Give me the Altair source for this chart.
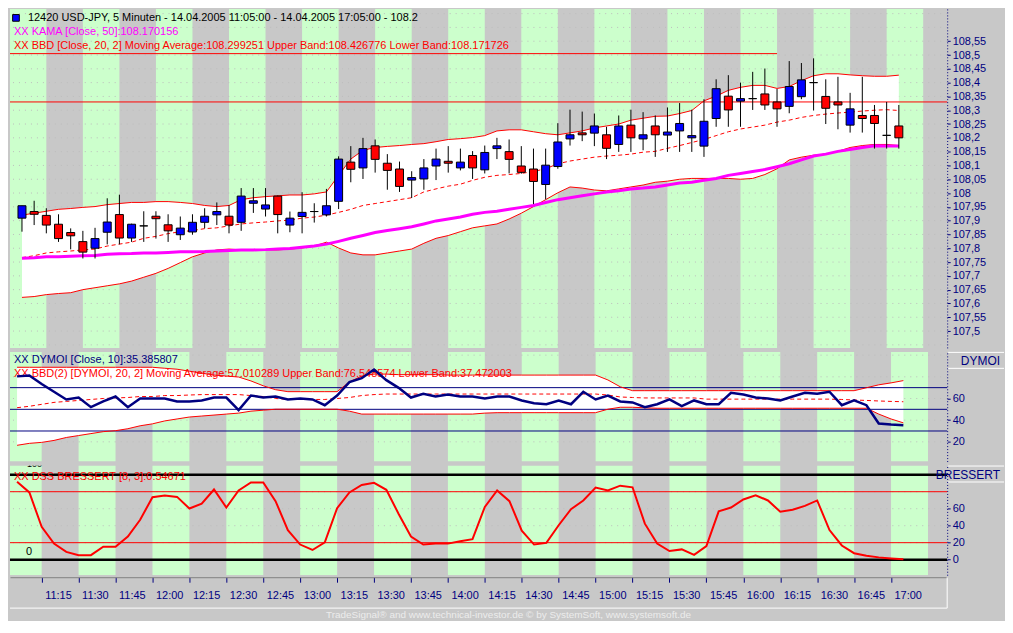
import altair as alt
import pandas as pd

# ---------------- data ----------------
times = [f"{11 + (5 + 5 * i) // 60}:{(5 + 5 * i) % 60:02d}" for i in range(73)]

open_ = [107.909, 107.933, 107.919, 107.887, 107.857, 107.824, 107.800, 107.858, 107.922, 107.837,
         107.881, 107.916, 107.885, 107.849, 107.859, 107.894, 107.921, 107.916, 107.894, 107.963,
         107.942, 107.989, 107.884, 107.915, 107.933, 107.921, 107.970, 108.112, 108.091, 108.171,
         108.108, 108.087, 108.047, 108.051, 108.098, 108.115, 108.091, 108.136, 108.084, 108.161,
         108.150, 108.098, 108.087, 108.031, 108.096, 108.196, 108.218, 108.217, 108.211, 108.176,
         108.246, 108.196, 108.243, 108.210, 108.225, 108.200, 108.170, 108.270, 108.351, 108.333,
         108.342, 108.359, 108.330, 108.314, 108.349, 108.400, 108.350, 108.330, 108.246, 108.281,
         108.281, 108.209, 108.243]
high = [107.954, 107.972, 107.945, 107.923, 107.872, 107.863, 107.874, 107.981, 107.994, 107.889,
        107.934, 107.934, 107.923, 107.915, 107.923, 107.945, 107.966, 107.956, 108.018, 108.018,
        108.018, 107.991, 107.933, 108.003, 107.963, 108.015, 108.133, 108.170, 108.200, 108.194,
        108.141, 108.114, 108.079, 108.123, 108.161, 108.170, 108.161, 108.152, 108.172, 108.200,
        108.194, 108.170, 108.161, 108.161, 108.253, 108.302, 108.295, 108.288, 108.240, 108.281,
        108.302, 108.293, 108.281, 108.310, 108.326, 108.302, 108.340, 108.412, 108.427, 108.400,
        108.439, 108.451, 108.377, 108.478, 108.471, 108.488, 108.412, 108.421, 108.363, 108.421,
        108.319, 108.330, 108.319]
low = [107.860, 107.884, 107.854, 107.823, 107.796, 107.763, 107.763, 107.814, 107.814, 107.823,
       107.823, 107.835, 107.823, 107.830, 107.849, 107.872, 107.884, 107.854, 107.863, 107.928,
       107.915, 107.854, 107.858, 107.854, 107.893, 107.915, 107.942, 108.039, 108.051, 108.074,
       108.012, 108.004, 107.982, 108.012, 108.047, 108.074, 108.082, 108.051, 108.071, 108.123,
       108.071, 108.070, 107.960, 107.977, 108.088, 108.172, 108.188, 108.170, 108.123, 108.149,
       108.149, 108.155, 108.131, 108.149, 108.149, 108.149, 108.131, 108.240, 108.240, 108.240,
       108.301, 108.301, 108.240, 108.289, 108.340, 108.299, 108.250, 108.231, 108.219, 108.219,
       108.161, 108.161, 108.161]
close = [107.954, 107.923, 107.884, 107.835, 107.845, 107.786, 107.835, 107.895, 107.837, 107.887,
         107.881, 107.907, 107.863, 107.873, 107.894, 107.916, 107.933, 107.884, 107.989, 107.972,
         107.957, 107.922, 107.909, 107.930, 107.933, 107.954, 108.123, 108.086, 108.161, 108.122,
         108.082, 108.024, 108.056, 108.091, 108.123, 108.108, 108.112, 108.091, 108.147, 108.171,
         108.122, 108.075, 108.042, 108.101, 108.185, 108.211, 108.211, 108.243, 108.162, 108.243,
         108.200, 108.211, 108.211, 108.221, 108.252, 108.208, 108.260, 108.378, 108.301, 108.342,
         108.342, 108.319, 108.305, 108.386, 108.410, 108.400, 108.307, 108.319, 108.305, 108.270,
         108.252, 108.209, 108.200]

bb_upper = [107.920, 107.927, 107.934, 107.941, 107.944, 107.948, 107.951, 107.958, 107.962, 107.966,
            107.966, 107.969, 107.969, 107.966, 107.962, 107.955, 107.951, 107.955, 107.976, 107.983,
            107.987, 107.990, 107.993, 107.993, 107.997, 108.004, 108.064, 108.123, 108.155, 108.165,
            108.169, 108.172, 108.176, 108.179, 108.186, 108.194, 108.197, 108.201, 108.208, 108.225,
            108.229, 108.229, 108.222, 108.215, 108.211, 108.218, 108.225, 108.236, 108.243, 108.250,
            108.264, 108.271, 108.278, 108.279, 108.288, 108.299, 108.334, 108.351, 108.372, 108.383,
            108.390, 108.390, 108.379, 108.386, 108.407, 108.425, 108.432, 108.432, 108.428, 108.425,
            108.423, 108.423, 108.427]
bb_middle = [107.766, 107.773, 107.783, 107.787, 107.790, 107.794, 107.797, 107.808, 107.815, 107.822,
             107.836, 107.843, 107.853, 107.860, 107.864, 107.871, 107.874, 107.881, 107.888, 107.892,
             107.895, 107.899, 107.902, 107.909, 107.913, 107.920, 107.930, 107.941, 107.955, 107.962,
             107.969, 107.976, 107.983, 108.004, 108.015, 108.025, 108.032, 108.046, 108.057, 108.064,
             108.067, 108.071, 108.078, 108.088, 108.106, 108.116, 108.123, 108.130, 108.134, 108.137,
             108.141, 108.148, 108.151, 108.162, 108.172, 108.183, 108.194, 108.208, 108.222, 108.232,
             108.239, 108.246, 108.257, 108.264, 108.274, 108.281, 108.286, 108.290, 108.293, 108.297,
             108.300, 108.302, 108.299]
bb_lower = [107.622, 107.625, 107.632, 107.636, 107.639, 107.650, 107.657, 107.664, 107.671, 107.681,
            107.695, 107.709, 107.727, 107.748, 107.769, 107.783, 107.794, 107.797, 107.794, 107.794,
            107.794, 107.794, 107.797, 107.801, 107.808, 107.822, 107.801, 107.783, 107.776, 107.776,
            107.783, 107.790, 107.797, 107.818, 107.836, 107.846, 107.860, 107.874, 107.881, 107.888,
            107.906, 107.927, 107.951, 107.976, 108.001, 108.022, 108.018, 108.011, 108.008, 108.015,
            108.022, 108.029, 108.039, 108.043, 108.050, 108.053, 108.053, 108.053, 108.053, 108.050,
            108.053, 108.067, 108.088, 108.120, 108.130, 108.137, 108.141, 108.151, 108.165, 108.172,
            108.176, 108.176, 108.172]
kama = [107.764, 107.766, 107.769, 107.769, 107.771, 107.773, 107.774, 107.778, 107.780, 107.781,
        107.783, 107.783, 107.785, 107.787, 107.787, 107.788, 107.790, 107.792, 107.794, 107.794,
        107.795, 107.797, 107.799, 107.804, 107.808, 107.815, 107.825, 107.836, 107.846, 107.857,
        107.864, 107.871, 107.878, 107.888, 107.899, 107.906, 107.913, 107.923, 107.930, 107.934,
        107.941, 107.948, 107.955, 107.966, 107.976, 107.983, 107.990, 107.997, 108.004, 108.008,
        108.015, 108.018, 108.022, 108.029, 108.036, 108.039, 108.046, 108.053, 108.064, 108.071,
        108.078, 108.085, 108.095, 108.106, 108.120, 108.134, 108.141, 108.151, 108.158, 108.165,
        108.171, 108.170, 108.170]

dymoi = [80.4, 81.3, 73.3, 66.2, 59.1, 60.9, 52.0, 57.3, 61.8, 52.0,
         60.0, 60.0, 60.0, 57.3, 57.3, 58.2, 60.9, 60.9, 49.3, 62.7,
         60.9, 61.8, 59.1, 60.0, 59.1, 53.8, 62.7, 75.1, 78.7, 86.7,
         76.9, 69.8, 60.9, 64.4, 61.8, 63.6, 61.8, 61.8, 60.0, 61.8,
         61.8, 58.2, 55.6, 54.7, 58.2, 54.7, 66.2, 59.1, 62.7, 57.3,
         56.4, 52.0, 54.7, 59.1, 52.9, 58.2, 54.7, 54.7, 65.3, 63.6,
         60.9, 60.0, 58.2, 61.8, 65.3, 64.4, 66.2, 53.8, 58.2, 53.8,
         36.9, 36.0, 35.4]
dymoi_upper = [88.8, 88.8, 88.8, 88.8, 88.8, 88.8, 88.8, 88.8, 88.8, 88.8,
               88.8, 88.8, 87.9, 87.0, 85.2, 83.4, 81.6, 80.7, 79.8, 76.2,
               71.7, 68.1, 66.3, 66.3, 66.3, 66.3, 66.3, 75.3, 80.7, 82.5,
               82.5, 82.0, 82.0, 82.0, 82.0, 81.6, 81.6, 81.6, 81.6, 81.6,
               81.6, 81.6, 81.6, 81.6, 81.6, 81.6, 81.6, 81.6, 77.1, 70.8,
               67.2, 67.2, 67.2, 67.2, 67.2, 67.2, 67.2, 67.2, 67.2, 67.2,
               67.2, 67.2, 67.2, 67.2, 67.2, 67.2, 67.2, 67.2, 67.2, 69.9,
               72.6, 74.4, 76.5]
dymoi_middle = [51.5, 52.8, 54.6, 56.4, 57.3, 58.2, 59.1, 60.0, 60.5, 60.9,
                61.8, 61.8, 62.7, 62.7, 63.2, 63.6, 63.6, 63.6, 63.6, 62.7,
                61.8, 60.0, 59.1, 59.1, 59.1, 59.1, 60.0, 60.9, 62.7, 63.6,
                64.1, 64.1, 64.1, 64.1, 64.1, 64.1, 64.1, 64.1, 64.1, 64.1,
                64.1, 64.1, 64.1, 64.1, 64.1, 64.1, 64.1, 64.1, 63.2, 61.4,
                60.9, 60.5, 60.5, 60.5, 60.5, 60.5, 59.4, 59.4, 59.4, 59.4,
                59.4, 59.4, 59.4, 59.4, 59.4, 59.4, 59.4, 59.1, 58.6, 58.2,
                57.7, 57.3, 57.0]
dymoi_lower = [16.8, 18.6, 19.5, 21.3, 24.0, 25.8, 27.6, 29.4, 30.3, 32.1,
               34.8, 36.6, 39.3, 41.1, 42.9, 43.8, 44.7, 45.6, 46.5, 48.3,
               49.2, 50.1, 50.1, 50.1, 50.1, 50.1, 50.1, 48.3, 45.6, 45.6,
               45.6, 45.6, 45.6, 45.6, 45.6, 45.6, 45.6, 45.6, 46.5, 46.9,
               46.9, 46.9, 46.9, 46.9, 46.9, 46.9, 46.9, 46.9, 50.1, 51.9,
               51.9, 51.4, 51.0, 51.0, 51.0, 51.0, 51.0, 51.0, 51.0, 51.0,
               51.0, 51.0, 51.0, 51.0, 51.0, 51.0, 51.0, 51.0, 51.0, 51.0,
               45.6, 41.1, 37.5]
dss = [91.7, 79.2, 38.6, 18.9, 9.1, 5.3, 5.3, 15.2, 15.2, 27.3,
       47.0, 73.5, 75.4, 73.9, 60.2, 65.9, 82.6, 61.4, 81.4, 90.9,
       90.9, 68.9, 34.8, 17.8, 11.4, 20.5, 60.6, 79.2, 87.9, 90.5,
       82.2, 53.8, 27.3, 17.8, 18.9, 18.9, 21.6, 24.2, 62.1, 81.4,
       68.9, 34.1, 17.8, 19.7, 40.5, 59.5, 69.7, 84.8, 81.4, 87.1,
       85.2, 42.4, 18.9, 10.2, 12.1, 5.7, 15.9, 56.8, 61.4, 70.8,
       75.8, 69.7, 56.4, 58.7, 63.3, 69.7, 34.8, 16.7, 7.6, 4.5,
       2.7, 1.5, 0.5]

price_ticks = [107.5, 107.55, 107.6, 107.65, 107.7, 107.75, 107.8, 107.85, 107.9, 107.95, 108.0,
               108.05, 108.1, 108.15, 108.2, 108.25, 108.3, 108.35, 108.4, 108.45, 108.5, 108.55]
price_grid = [107.45] + price_ticks + [108.6, 108.65]
mid_ticks = [20, 40, 60]
bot_ticks = [0, 20, 40, 60]
osc_grid = [0, 20, 40, 60, 80, 100]
time_ticks = ["11:15", "11:30", "11:45", "12:00", "12:15", "12:30", "12:45", "13:00", "13:15",
              "13:30", "13:45", "14:00", "14:15", "14:30", "14:45", "15:00", "15:15", "15:30",
              "15:45", "16:00", "16:15", "16:30", "16:45", "17:00"]
green_blocks = ["11:00", "11:30", "12:00", "12:30", "13:00", "13:30", "14:00", "14:30",
                "15:00", "15:30", "16:00", "16:30", "17:00"]
price_levels = [108.505, 108.33]
price_level_end = ["16:15", "17:30"]
dymoi_levels = [70, 50, 30]
dss_red_levels = [80, 20]
dss_black_levels = [100, 0]

title_main = "12420  USD-JPY, 5 Minuten - 14.04.2005 11:05:00 - 14.04.2005 17:05:00 - 108.2"
title_kama = "XX KAMA [Close, 50]:108.170156"
title_bbd = "XX BBD [Close, 20, 2] Moving Average:108.299251 Upper Band:108.426776 Lower Band:108.171726"
title_dymoi = "XX DYMOI [Close, 10]:35.385807"
title_bbd2 = "XX BBD(2) [DYMOI, 20, 2] Moving Average:57.010289 Upper Band:76.548574 Lower Band:37.472003"
title_dss = "XX DSS BRESSERT [8, 3]:0.54671"
footer = "TradeSignal\u00ae and www.technical-investor.de \u00a9 by SystemSoft, www.systemsoft.de"


def to_min(s):
    h, m = s.split(":")
    return int(h) * 60 + int(m) - 660


df = pd.DataFrame({
    "t": [to_min(s) for s in times], "open": open_, "high": high, "low": low, "close": close,
    "bb_up": bb_upper, "bb_mid": bb_middle, "bb_lo": bb_lower, "kama": kama,
    "dymoi": dymoi, "m_up": dymoi_upper, "m_mid": dymoi_middle, "m_lo": dymoi_lower, "dss": dss,
})
df["dir"] = ["up" if c > o else ("down" if c < o else "flat") for o, c in zip(open_, close)]

stripes = pd.DataFrame({"s": [to_min(s) for s in green_blocks]})
stripes["e"] = stripes["s"] + 15
pgrid = pd.DataFrame({"g": price_grid})
ogrid = pd.DataFrame({"g": osc_grid})
levels = pd.DataFrame({"p": price_levels, "a": [0, 0], "b": [to_min(s) for s in price_level_end]})
dlev = pd.DataFrame({"v": dymoi_levels})
rlev = pd.DataFrame({"v": dss_red_levels})
blev = pd.DataFrame({"v": dss_black_levels})

# ---------------- styling ----------------
W = 940
H1, H2, H3 = 340, 110, 110
GREEN = "#ccffcc"
GRAY = "#c8c8c8"
RED = "#ff0000"
NAVY = "#000080"
MAGENTA = "#ff00ff"
GRIDC = "#bdbdbd"
FONT = "Liberation Sans"

xs = alt.Scale(domain=[2.13, 382.8], nice=False, zero=False)
x_axis = alt.Axis(values=[to_min(s) for s in time_ticks],
                  labelExpr="floor(11 + datum.value / 60) + ':' + (datum.value % 60 < 10 ? '0' : '') + (datum.value % 60)",
                  orient="bottom", grid=False, domainColor="#808080", tickColor=NAVY, tickSize=5,
                  labelColor=NAVY, labelFont=FONT, labelFontSize=11, labelAlign="left", labelOffset=3,
                  labelPadding=7, offset=2, labelOverlap=False, labelFlush=False, title=None)


def X(field, axis=None):
    return alt.X(field, type="quantitative", scale=xs, axis=axis, title=None)


def right_axis(vals, expr=None):
    kw = dict(orient="right", values=vals, grid=False, domainColor=NAVY, domainDash=[1, 2],
              tickColor=NAVY, tickSize=3, labelColor=NAVY, labelFont=FONT, labelFontSize=11,
              labelPadding=2, labelOverlap=False, labelFlush=False, title=None)
    if expr:
        kw["labelExpr"] = expr
    return alt.Axis(**kw)


ys1 = alt.Scale(domain=[107.439, 108.667], nice=False, zero=False)
ax1 = right_axis(price_ticks, "replace(format(datum.value, '.2~f'), '.', ',')")
ys2 = alt.Scale(domain=[1.8, 103.0], nice=False, zero=False)
ax2 = right_axis(mid_ticks)
ys3 = alt.Scale(domain=[-18.3, 110.8], nice=False, zero=False)
ax3 = right_axis(bot_ticks)


def Y(field, sc, ax):
    return alt.Y(field, type="quantitative", scale=sc, axis=ax, title=None)


def label(text, x, y, color, size=11, align="left", baseline="middle"):
    return alt.Chart(pd.DataFrame({"txt": [text]})).mark_text(
        align=align, baseline=baseline, font=FONT, fontSize=size, color=color
    ).encode(text="txt:N", x=alt.value(x), y=alt.value(y))


def hline(x1, x2, y, color="white", width=1):
    return alt.Chart(pd.DataFrame({"k": [0]})).mark_rule(color=color, strokeWidth=width).encode(
        x=alt.value(x1), x2=alt.value(x2), y=alt.value(y))


def vline(x, y1, y2, color="white", width=1):
    return alt.Chart(pd.DataFrame({"k": [0]})).mark_rule(color=color, strokeWidth=width).encode(
        x=alt.value(x), y=alt.value(y1), y2=alt.value(y2))


def stripe_layer(axis=None):
    return alt.Chart(stripes).mark_rect(color=GREEN, clip=True).encode(x=X("s", axis), x2="e")


# ---------------- top panel: candles ----------------
top = alt.layer(
    stripe_layer(),
    alt.Chart(pgrid).mark_rule(color=GRIDC, strokeDash=[1, 5], clip=True).encode(y=Y("g", ys1, ax1)),
    alt.Chart(df).mark_area(color="white", clip=True).encode(x=X("t"), y=Y("bb_lo", ys1, ax1), y2="bb_up"),
    alt.Chart(levels).mark_rule(color=RED, strokeWidth=1, clip=True).encode(
        x=X("a"), x2="b", y=Y("p", ys1, ax1)),
    alt.Chart(df).mark_line(color=RED, strokeWidth=1, clip=True).encode(x=X("t"), y=Y("bb_up", ys1, ax1)),
    alt.Chart(df).mark_line(color=RED, strokeWidth=1, clip=True).encode(x=X("t"), y=Y("bb_lo", ys1, ax1)),
    alt.Chart(df).mark_line(color=RED, strokeWidth=1, strokeDash=[4, 3], clip=True).encode(
        x=X("t"), y=Y("bb_mid", ys1, ax1)),
    alt.Chart(df).mark_line(color=MAGENTA, strokeWidth=3, clip=True).encode(x=X("t"), y=Y("kama", ys1, ax1)),
    alt.Chart(df).mark_rule(color="black", strokeWidth=1).encode(x=X("t"), y=Y("low", ys1, ax1), y2="high"),
    alt.Chart(df).mark_bar(size=8, stroke="black", strokeWidth=1).encode(
        x=X("t"), y=Y("open", ys1, ax1), y2="close",
        color=alt.Color("dir:N", scale=alt.Scale(domain=["up", "down", "flat"],
                                                 range=["#0000ff", RED, "#000000"]), legend=None)),
    alt.Chart(pd.DataFrame({"k": [0]})).mark_point(shape="square", filled=True, size=45, fill="#0000ff",
                                                   stroke="black", strokeWidth=1, opacity=1).encode(
        x=alt.value(6), y=alt.value(9)),
    label(title_main, 18, 9, "black"),
    label(title_kama, 4, 23, MAGENTA),
    label(title_bbd, 4, 37, RED),
).properties(width=W, height=H1)

# ---------------- middle panel: DYMOI ----------------
mid = alt.layer(
    stripe_layer(),
    alt.Chart(ogrid).mark_rule(color=GRIDC, strokeDash=[1, 5], clip=True).encode(y=Y("g", ys2, ax2)),
    alt.Chart(df).mark_area(color="white", clip=True).encode(x=X("t"), y=Y("m_lo", ys2, ax2), y2="m_up"),
    label(title_dymoi, 4, 8, NAVY),
    label(title_bbd2, 4, 22, RED),
    alt.Chart(dlev).mark_rule(color=NAVY, strokeWidth=1).encode(y=Y("v", ys2, ax2)),
    alt.Chart(df).mark_line(color=RED, strokeWidth=1, clip=True).encode(x=X("t"), y=Y("m_up", ys2, ax2)),
    alt.Chart(df).mark_line(color=RED, strokeWidth=1, clip=True).encode(x=X("t"), y=Y("m_lo", ys2, ax2)),
    alt.Chart(df).mark_line(color=RED, strokeWidth=1, strokeDash=[4, 3], clip=True).encode(
        x=X("t"), y=Y("m_mid", ys2, ax2)),
    alt.Chart(df).mark_line(color=NAVY, strokeWidth=2.5, clip=True).encode(x=X("t"), y=Y("dymoi", ys2, ax2)),
    hline(W + 1, W + 57, 0.5),
    hline(W + 1, W + 57, 16.5),
    label("DYMOI", W + 53, 9, NAVY, size=12, align="right"),
).properties(width=W, height=H2)

# ---------------- bottom panel: DSS Bressert ----------------
bot = alt.layer(
    stripe_layer(x_axis),
    alt.Chart(ogrid).mark_rule(color=GRIDC, strokeDash=[1, 5], clip=True).encode(y=Y("g", ys3, ax3)),
    alt.Chart(rlev).mark_rule(color=RED, strokeWidth=1).encode(y=Y("v", ys3, ax3)),
    alt.Chart(blev).mark_rule(color="black", strokeWidth=2.5).encode(y=Y("v", ys3, ax3)),
    label(title_dss, 4, 11, RED),
    alt.Chart(pd.DataFrame({"txt": ["100"]})).mark_text(
        align="left", baseline="bottom", font=FONT, fontSize=9, color="black", clip=True).encode(
        x=alt.value(17), y=alt.value(3), text="txt:N"),
    alt.Chart(pd.DataFrame({"v": [0], "txt": ["0"]})).mark_text(
        align="left", baseline="middle", font=FONT, fontSize=11, color="black", dy=-8).encode(
        x=alt.value(16), y=Y("v", ys3, ax3), text="txt:N"),
    alt.Chart(df).mark_line(color=RED, strokeWidth=2, clip=True).encode(x=X("t", x_axis), y=Y("dss", ys3, ax3)),
    hline(W + 1, W + 57, 0.5),
    hline(W + 1, W + 57, 16.5),
    label("BRESSERT", W + 53, 9, NAVY, size=12, align="right"),
    hline(0, W, H3 + 33),
    vline(W, H3 + 2, H3 + 33),
    label(footer, W / 2 + 30, H3 + 40, "#ececec", size=10, align="center"),
).properties(width=W, height=H3)

chart = alt.vconcat(top, mid, bot, spacing=4).properties(padding=0).configure(
    background=GRAY, font=FONT
).configure_view(stroke=None)

chart.save("out.html", embed_options={"renderer": "svg", "actions": False})
